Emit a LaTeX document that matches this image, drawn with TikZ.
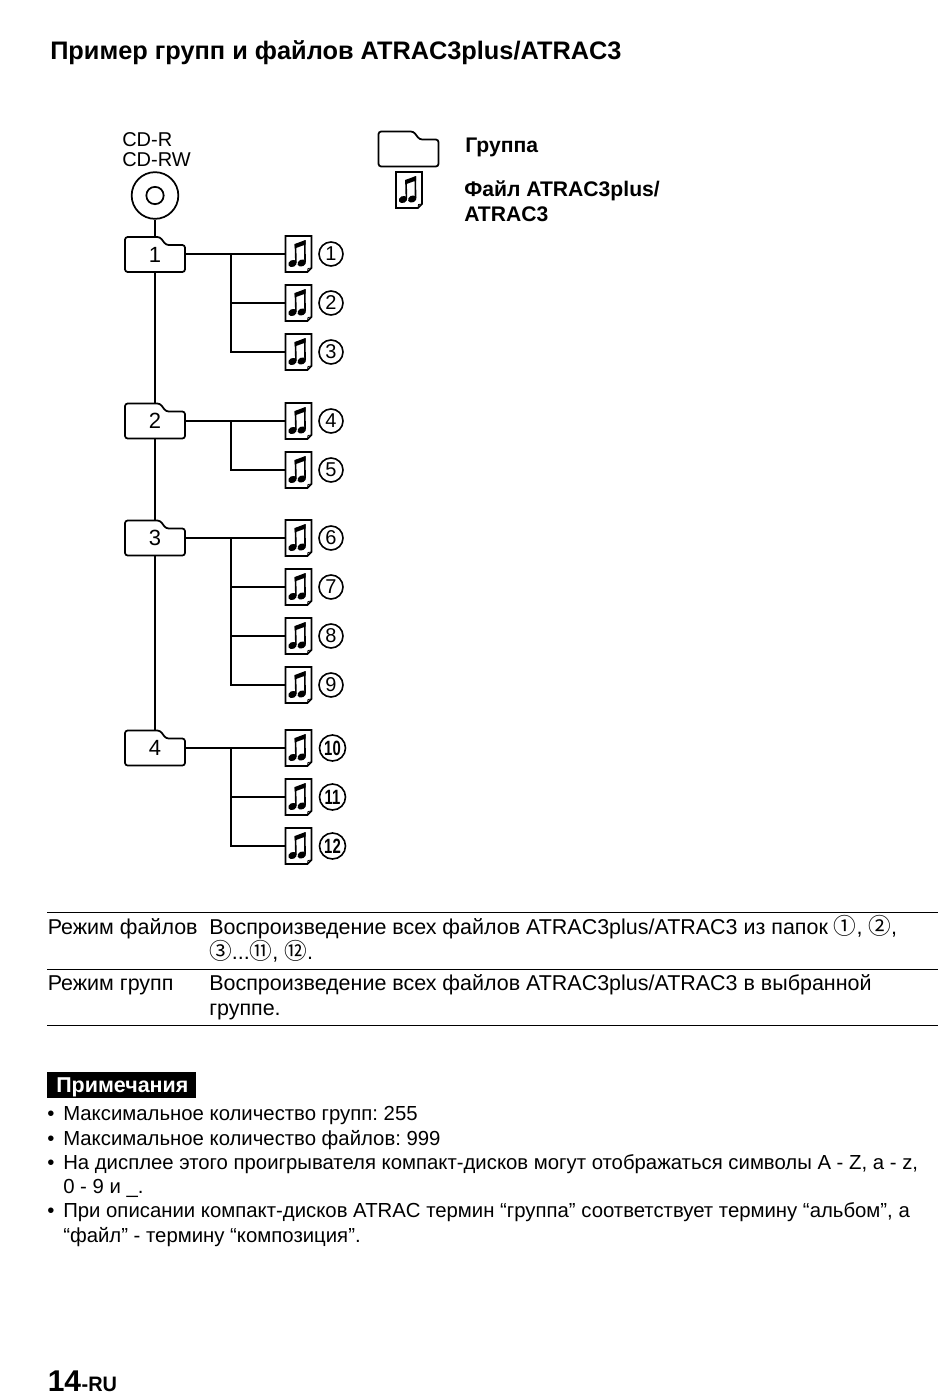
\documentclass[tikz,border=0pt]{standalone}
\usepackage{graphicx}
\usepackage{fontspec}
\setmainfont{Liberation Sans}
\newfontfamily\symfont{Noto Sans CJK SC}
\usetikzlibrary{positioning}
\frenchspacing
\newcommand\cn[1]{{\symfont\fontsize{17}{17}\selectfont #1}}
\newcommand\groupfolder[3]{
  \begin{scope}[shift={(#2)}]
    \node[folderbox] (#1) at (0,0) {\raisebox{-1pt}{#3}};
    \draw[folderline] (-30,17.5) -- (-30,-17.5) -- (5,-17.5) -- (11,-9.5) -- (30,-9.5) -- (30,17.5) -- cycle;
  \end{scope}
}
\newcommand\filenote[2]{
  \begin{scope}[shift={(#2)}]
    \node[notebox] (#1) at (0,0) {};
    \draw[noteline] (-13,-18) -- (13,-18) -- (13,14) -- (9,18) -- (-13,18) -- cycle;
    \draw[line width=0.6pt] (9,18) -- (9.5,14.5) -- (13,14);
    \fill (-6,9.5) ellipse[x radius=4.4,y radius=3.4,rotate=25];
    \fill (3.2,9) ellipse[x radius=4.4,y radius=3.4,rotate=25];
    \draw[line width=1.2pt] (-2.6,9) -- (-3,-10);
    \draw[line width=1.2pt] (6.6,8.5) -- (6.2,-13.5);
    \fill (-3.8,-10) -- (7,-14) -- (7,-9.5) -- (-3.8,-5.5) -- cycle;
  \end{scope}
}
\begin{document}
\begin{tikzpicture}[
    x=0.75pt,y=-0.75pt,
    folderbox/.style={minimum width=45pt,minimum height=26.25pt,inner sep=0pt,font=\fontsize{16.5}{16.5}\selectfont},
    folderline/.style={line width=1.3pt,rounded corners=2pt},
    notebox/.style={minimum width=19.5pt,minimum height=27pt,inner sep=0pt},
    noteline/.style={line width=1.3pt},
    numcirc/.style={circle,draw,line width=1.2pt,minimum size=18pt,inner sep=0pt,font=\fontsize{15}{15}\selectfont},
    numwide/.style={numcirc,minimum size=19.5pt,font=\bfseries\fontsize{15.5}{15.5}\selectfont},
    link/.style={line width=1.7pt},
    txt/.style={anchor=base west,inner sep=0pt,font=\fontsize{16.1}{16.1}\selectfont},
    notetxt/.style={txt,font=\fontsize{15.25}{15.25}\selectfont},
    head/.style={txt,font=\bfseries\fontsize{15.85}{15.85}\selectfont},
    rulerow/.style={line width=0.75pt}
  ]
  \useasboundingbox (0,0) rectangle (950,1395);
  \node[txt,font=\bfseries\fontsize{19}{19}\selectfont] (title) at (50,60) {Пример групп и файлов ATRAC3plus/ATRAC3};

  \node[txt,font=\fontsize{15}{15}\selectfont] (cdr) at (122,146) {CD-R};
  \node[txt,font=\fontsize{15}{15}\selectfont] (cdrw) at (122,166) {CD-RW};
  \node[circle,draw,line width=1.3pt,minimum size=35pt,inner sep=0pt] (disc) at (155,195.5) {};
  \node[circle,draw,line width=1.3pt,minimum size=13pt,inner sep=0pt] (hole) at (155,195.5) {};

  \groupfolder{leg1}{408.5,149}{}
  \filenote{leg2}{409,190}
  \node[head] (legt1) at (465,152) {Группа};
  \node[head] (legt2) at (464,196) {Файл ATRAC3plus/};
  \node[head] (legt3) at (464,221) {ATRAC3};

  \foreach\i/\y in {1/254.5,2/421,3/538,4/748}{\groupfolder{g\i}{155,\y}{\i}}
  \foreach\n/\y in {1/254,2/303,3/352,4/421,5/470,6/538,7/587,8/636,9/685}{
    \filenote{f\n}{298.5,\y}
    \node[numcirc] (c\n) at (331,\y) {\n};
  }
  \foreach\n/\y in {10/748,11/797,12/846}{
    \filenote{f\n}{298.5,\y}
    \node[numwide] (c\n) at (332.5,\y) {\scalebox{0.72}[1]{\n}};
  }

  \draw[link] (disc) -- (g1);
  \foreach\i/\j in {1/2,2/3,3/4}{\draw[link] (g\i) -- (g\j);}
  \coordinate (b1) at (231,254);
  \coordinate (b2) at (231,421);
  \coordinate (b3) at (231,538);
  \coordinate (b4) at (231,748);
  \foreach\g/\a/\z in {1/1/3,2/4/5,3/6/9,4/10/12}{
    \draw[link] (g\g.east |- f\a) -- (f\a.west);
    \draw[link] (b\g) |- (f\z.west);
  }
  \foreach\g/\n in {1/2,3/7,3/8,4/11}{\draw[link] (b\g |- f\n) -- (f\n.west);}

  \coordinate (r1a) at (47,912.5);
  \coordinate (r1b) at (938,912.5);
  \coordinate (r2a) at (47,969);
  \coordinate (r2b) at (938,969);
  \coordinate (r3a) at (47,1025);
  \coordinate (r3b) at (938,1025);
  \foreach\r in {1,2,3}{\draw[rulerow] (r\r a) -- (r\r b);}
  \node[txt] (m1) at (47.5,934) {Режим файлов};
  \node[txt] (m1a) at (209,934) {Воспроизведение всех файлов ATRAC3plus/ATRAC3 из папок \cn{①}, \cn{②},};
  \node[txt] (m1b) at (209,959) {\cn{③}...\cn{⑪}, \cn{⑫}.};
  \node[txt] (m2) at (47.5,990) {Режим групп};
  \node[txt] (m2a) at (209,990) {Воспроизведение всех файлов ATRAC3plus/ATRAC3 в выбранной};
  \node[txt] (m2b) at (209,1015) {группе.};

  \node[anchor=north west,fill=black,minimum width=111.75pt,minimum height=19.5pt,inner sep=0pt] (notes) at (47,1072) {};
  \node[head,text=white,font=\bfseries\fontsize{16.1}{16.1}\selectfont] (notest) at (56,1092) {Примечания};
  \foreach\k/\y/\t in {
    a/1120/Максимальное количество групп: 255,
    b/1145/Максимальное количество файлов: 999,
    c/1169/На дисплее этого проигрывателя компакт-дисков могут отображаться символы A - Z{,} a - z{,},
    d/1217/При описании компакт-дисков ATRAC термин “группа” соответствует термину “альбом”{,} а}{
    \node[notetxt] (bul\k) at (47,\y) {•};
    \node[notetxt] (not\k) at (63,\y) {\t};
  }
  \node[notetxt] (notc2) at (63,1193) {0 - 9 и \_.};
  \node[notetxt] (notd2) at (63,1242) {“файл” - термину “композиция”.};

  \node[txt,font=\bfseries\fontsize{22.5}{22.5}\selectfont] (page) at (47.5,1391) {14};
  \node[txt,font=\bfseries\fontsize{15.7}{15.7}\selectfont,right=0pt of page.base east,anchor=base west] (pagesuf) {\scalebox{0.95}[1]{-RU}};
\end{tikzpicture}
\end{document}
